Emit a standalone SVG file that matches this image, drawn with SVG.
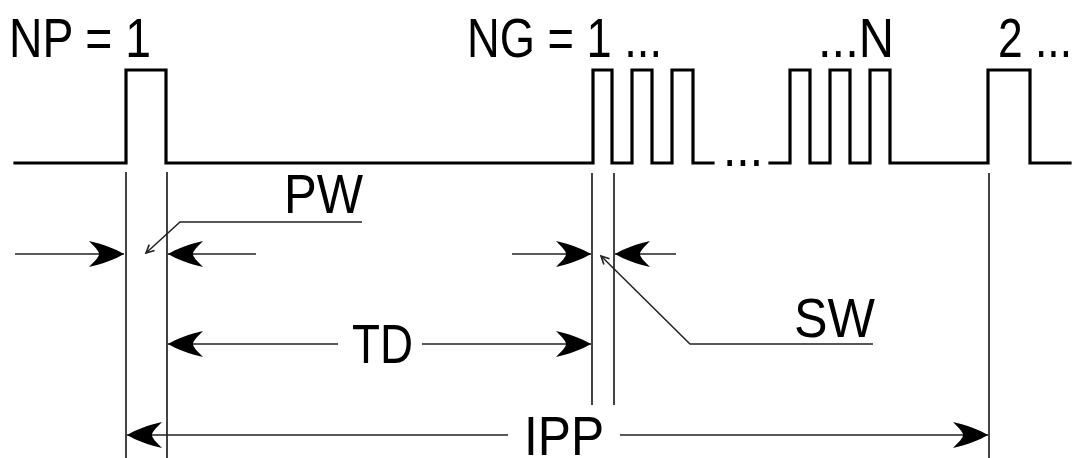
<svg xmlns="http://www.w3.org/2000/svg" width="1079" height="458" viewBox="0 0 1079 458">
<style>
.wave{fill:none;stroke:#000;stroke-width:3.2;stroke-linejoin:miter;stroke-linecap:square}
.dim{fill:none;stroke:#222;stroke-width:1.7}
.lead{fill:none;stroke:#222;stroke-width:1.5}
.lbl{font-family:"Liberation Sans",Arial,sans-serif;font-size:56px;fill:#000}
</style>
<defs>
<marker id="arr" viewBox="-37 -14 39 28" refX="0" refY="0" markerWidth="39" markerHeight="28" markerUnits="userSpaceOnUse" orient="auto">
<path d="M0,0 C-8,-5 -22,-10 -35,-13 C-29,-7 -25,-3 -25,0 C-25,3 -29,7 -35,13 C-22,10 -8,5 0,0 Z" fill="#000"/>
</marker>
<marker id="small" viewBox="-10 -6 12 12" refX="0" refY="0" markerWidth="12" markerHeight="12" markerUnits="userSpaceOnUse" orient="auto">
<path d="M-8,-4 L0,0 L-8,4" fill="none" stroke="#222" stroke-width="1.6"/>
</marker>
</defs>
<g id="waveform">
<path class="wave" d="M15,163 H126 V70 H166 V163 H593 V70 H612 V163 H632 V70 H652 V163 H672 V70 H693 V163 H713"/>
<path class="wave" d="M770,163 H790 V70 H810 V163 H830 V70 H850 V163 H870 V70 H890 V163 H988 V70 H1030 V163 H1070"/>
<text class="lbl" x="723" y="166" textLength="40" lengthAdjust="spacingAndGlyphs">...</text>
</g>
<g id="labels">
<text class="lbl" x="9" y="57" textLength="142" lengthAdjust="spacingAndGlyphs">NP = 1</text>
<text class="lbl" x="467" y="57" textLength="195" lengthAdjust="spacingAndGlyphs">NG = 1 ...</text>
<text class="lbl" x="818" y="57" textLength="76" lengthAdjust="spacingAndGlyphs">...N</text>
<text class="lbl" x="998" y="57" textLength="74" lengthAdjust="spacingAndGlyphs">2 ...</text>
</g>
<g id="connectors">
<line class="dim" x1="126" y1="172" x2="126" y2="458"/>
<line class="dim" x1="167" y1="172" x2="167" y2="458"/>
<line class="dim" x1="592" y1="173" x2="592" y2="405"/>
<line class="dim" x1="614" y1="173" x2="614" y2="405"/>
<line class="dim" x1="989" y1="173" x2="989" y2="458"/>
<line class="dim" x1="15" y1="254" x2="124" y2="254" marker-end="url(#arr)"/>
<line class="dim" x1="256" y1="254" x2="168" y2="254" marker-end="url(#arr)"/>
<line class="dim" x1="512" y1="254" x2="591" y2="254" marker-end="url(#arr)"/>
<line class="dim" x1="676" y1="254" x2="615" y2="254" marker-end="url(#arr)"/>
<line class="dim" x1="338" y1="344" x2="168" y2="344" marker-end="url(#arr)"/>
<line class="dim" x1="422" y1="344" x2="591" y2="344" marker-end="url(#arr)"/>
<line class="dim" x1="508" y1="435" x2="127" y2="435" marker-end="url(#arr)"/>
<line class="dim" x1="620" y1="435" x2="988" y2="435" marker-end="url(#arr)"/>
<polyline class="lead" points="362,222 180,222 146,253" marker-end="url(#small)"/>
<polyline class="lead" points="873,344 690,344 601,256" marker-end="url(#small)"/>
</g>
<g id="dim-labels">
<text class="lbl" x="284" y="213" textLength="79" lengthAdjust="spacingAndGlyphs">PW</text>
<text class="lbl" x="794" y="337" textLength="81" lengthAdjust="spacingAndGlyphs">SW</text>
<text class="lbl" x="352" y="363" textLength="61" lengthAdjust="spacingAndGlyphs">TD</text>
<text class="lbl" x="524" y="455" textLength="80" lengthAdjust="spacingAndGlyphs">IPP</text>
</g>
</svg>
